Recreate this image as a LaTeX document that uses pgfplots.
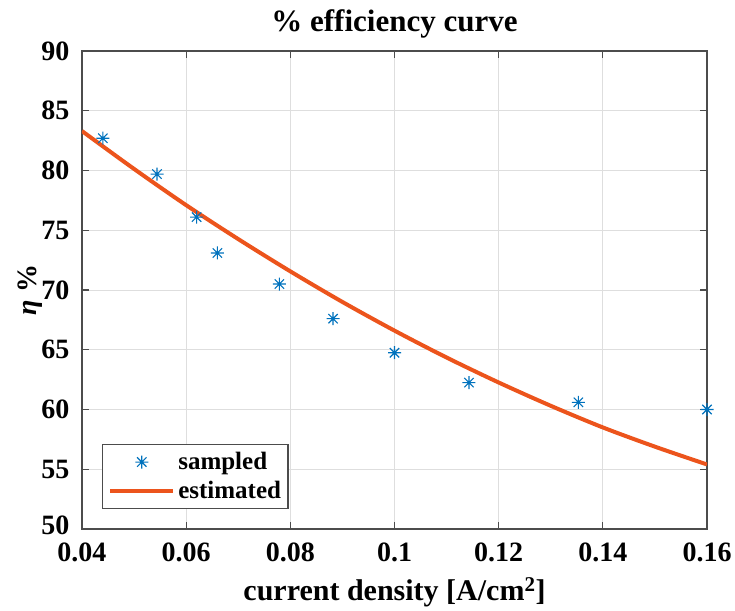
\documentclass[border=0pt]{standalone}
\usepackage{fontspec}
\setmainfont{Liberation Serif}
\usepackage{pgfplots}
\pgfplotsset{compat=1.18}
\definecolor{mblue}{RGB}{0,114,189}
\definecolor{morange}{RGB}{236,84,28}
\pgfdeclareplotmark{mstar}{%
  \pgfpathmoveto{\pgfqpoint{-\pgfplotmarksize}{0pt}}\pgfpathlineto{\pgfqpoint{\pgfplotmarksize}{0pt}}%
  \pgfpathmoveto{\pgfqpoint{0pt}{-\pgfplotmarksize}}\pgfpathlineto{\pgfqpoint{0pt}{\pgfplotmarksize}}%
  \pgfpathmoveto{\pgfqpoint{-0.72\pgfplotmarksize}{-0.72\pgfplotmarksize}}\pgfpathlineto{\pgfqpoint{0.72\pgfplotmarksize}{0.72\pgfplotmarksize}}%
  \pgfpathmoveto{\pgfqpoint{-0.72\pgfplotmarksize}{0.72\pgfplotmarksize}}\pgfpathlineto{\pgfqpoint{0.72\pgfplotmarksize}{-0.72\pgfplotmarksize}}%
  \pgfusepathqstroke}
\pgfplotsset{
  linelegimg/.style={legend image code/.code={\path[draw=none] (-3pt,0pt) -- (66pt,0pt);\draw[##1] (0pt,0pt) -- (63pt,0pt);}},
  marklegimg/.style={legend image code/.code={\path[draw=none] (-3pt,0pt) -- (66pt,0pt);\draw[##1] plot coordinates {(31.5pt,0pt)};}},
}
\begin{document}
\begin{tikzpicture}
\begin{axis}[
  at={(0,0)}, anchor=south west,
  scale only axis, width=625pt, height=478pt,
  xmin=0.04, xmax=0.16, ymin=50, ymax=90,
  xtick={0.04,0.06,0.08,0.1,0.12,0.14,0.16},
  xticklabels={0.04,0.06,0.08,0.1,0.12,0.14,0.16},
  ytick={50,55,60,65,70,75,80,85,90},
  yticklabels={\raisebox{7pt}{50},55,60,65,70,75,80,85,90},
  grid=major,
  major grid style={color=black!13, line width=0.8pt},
  axis line style={color=black!70, line width=1.3pt},
  tick style={color=black!70, line width=1.2pt},
  major tick length=7pt,
  tick align=inside,
  /pgf/number format/assume math mode=true,
  ticklabel style={font=\fontsize{28}{28}\selectfont\bfseries},
  xticklabel style={yshift=-10pt},
  yticklabel style={xshift=-9pt},
  title={\% efficiency curve},
  title style={at={(axis description cs:0.5,1.06)}, anchor=center, yshift=-8pt, font=\fontsize{31}{31}\selectfont\bfseries},
  xlabel={current density [A/cm\textsuperscript{2}]},
  xlabel style={at={(axis description cs:0.5,-0.132)}, anchor=center, font=\fontsize{30}{30}\selectfont\bfseries},
  ylabel={{\itshape η} \%},
  ylabel style={at={(axis description cs:-0.083,0.5)}, anchor=center, font=\fontsize{28}{28}\selectfont\bfseries},
  legend style={at={(axis description cs:0.0315,0.042)}, anchor=south west,
    font=\fontsize{25}{25}\selectfont\bfseries, draw=black!70, line width=1.2pt,
    inner xsep=5pt, inner ysep=6pt, row sep=6pt, cells={anchor=west}},
]
\addplot[only marks, mark=mstar, mark size=6.5pt, color=mblue, line width=1.1pt, marklegimg]
  coordinates {
  (0.0440,82.7) (0.0544,79.7) (0.0620,76.1) (0.0660,73.1) (0.0779,70.5)
  (0.0882,67.6) (0.1000,64.75) (0.1143,62.25) (0.1353,60.6) (0.1600,60.0)
  };
\addlegendentry{sampled}
\addplot[color=morange, line width=4pt, smooth, linelegimg]
  coordinates {
  (0.04,83.3) (0.05,80.13) (0.06,77.1) (0.07,74.26) (0.08,71.56) (0.09,69.0)
  (0.10,66.6) (0.11,64.35) (0.12,62.26) (0.13,60.31) (0.14,58.5) (0.15,56.89) (0.16,55.4)
  };
\addlegendentry{estimated}
\end{axis}
\pgfresetboundingbox
\path (-82pt,-81pt) rectangle (653pt,529pt);
\end{tikzpicture}
\end{document}
